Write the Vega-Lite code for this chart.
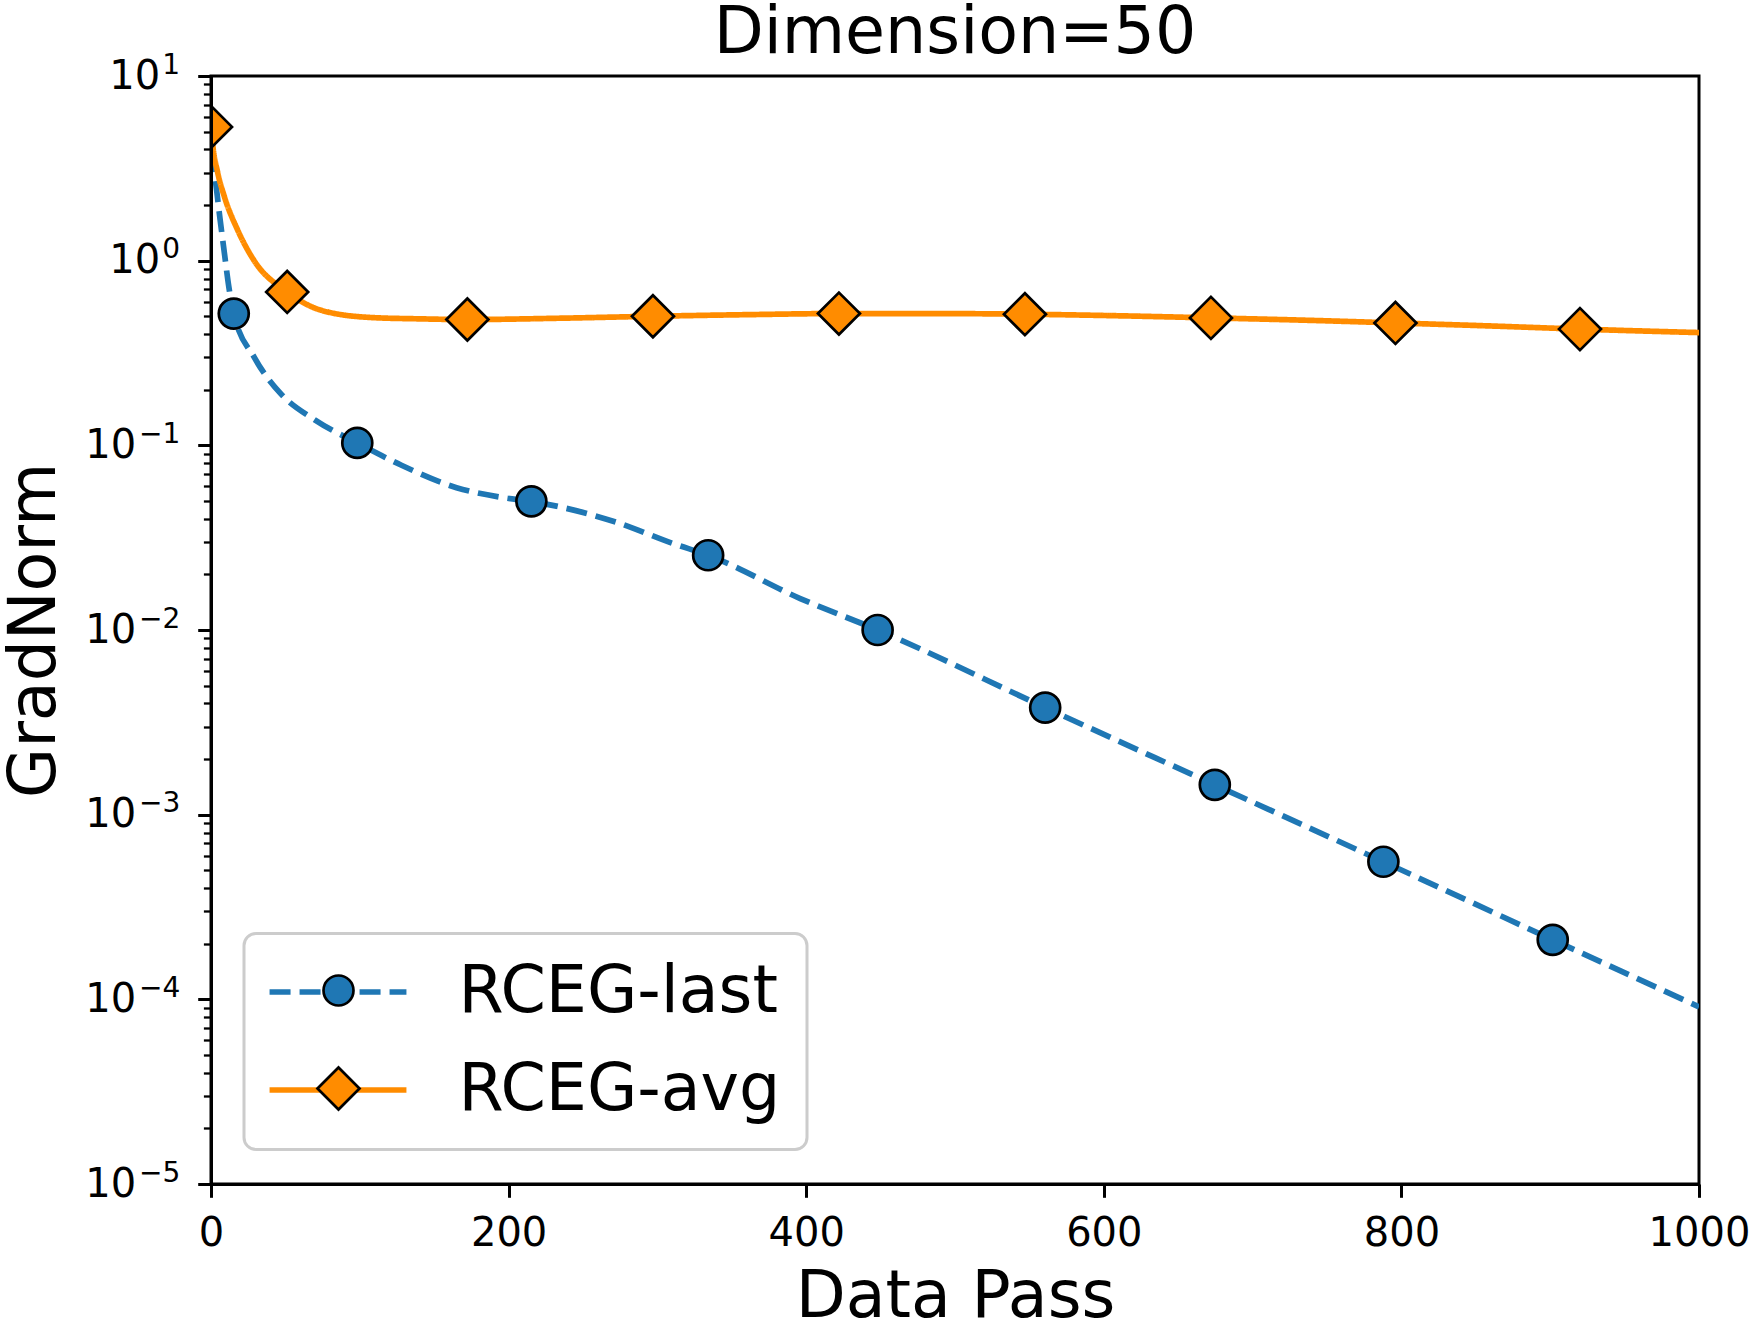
{
  "$schema": "https://vega.github.io/schema/vega-lite/v6.json",
  "autosize": {"type": "none"},
  "padding": {"left": 211, "top": 76, "right": 50, "bottom": 138},
  "width": 1488,
  "height": 1108,
  "background": "white",
  "title": {
    "text": "Dimension=50",
    "anchor": "middle",
    "frame": "group",
    "baseline": "top",
    "offset": -16,
    "fontSize": 65,
    "fontWeight": "normal",
    "font": "DejaVu Sans",
    "color": "black"
  },
  "data": {
    "values": [
      {"series": "RCEG-last", "pass": 0, "gradnorm": 3.9, "marker": false},
      {"series": "RCEG-last", "pass": 3, "gradnorm": 2.7, "marker": false},
      {"series": "RCEG-last", "pass": 6, "gradnorm": 1.7, "marker": false},
      {"series": "RCEG-last", "pass": 9, "gradnorm": 1.1, "marker": false},
      {"series": "RCEG-last", "pass": 12, "gradnorm": 0.72, "marker": false},
      {"series": "RCEG-last", "pass": 15.3, "gradnorm": 0.517, "marker": true},
      {"series": "RCEG-last", "pass": 29, "gradnorm": 0.30, "marker": false},
      {"series": "RCEG-last", "pass": 47, "gradnorm": 0.19, "marker": false},
      {"series": "RCEG-last", "pass": 70, "gradnorm": 0.137, "marker": false},
      {"series": "RCEG-last", "pass": 98.3, "gradnorm": 0.103, "marker": true},
      {"series": "RCEG-last", "pass": 128, "gradnorm": 0.078, "marker": false},
      {"series": "RCEG-last", "pass": 165, "gradnorm": 0.059, "marker": false},
      {"series": "RCEG-last", "pass": 197, "gradnorm": 0.052, "marker": false},
      {"series": "RCEG-last", "pass": 215.3, "gradnorm": 0.0497, "marker": true},
      {"series": "RCEG-last", "pass": 272, "gradnorm": 0.0384, "marker": false},
      {"series": "RCEG-last", "pass": 311, "gradnorm": 0.0293, "marker": false},
      {"series": "RCEG-last", "pass": 334.1, "gradnorm": 0.0254, "marker": true},
      {"series": "RCEG-last", "pass": 396, "gradnorm": 0.0148, "marker": false},
      {"series": "RCEG-last", "pass": 448, "gradnorm": 0.0100, "marker": true},
      {"series": "RCEG-last", "pass": 560.6, "gradnorm": 0.0038, "marker": true},
      {"series": "RCEG-last", "pass": 674.6, "gradnorm": 0.00145, "marker": true},
      {"series": "RCEG-last", "pass": 787.9, "gradnorm": 0.000556, "marker": true},
      {"series": "RCEG-last", "pass": 901.7, "gradnorm": 0.00021, "marker": true},
      {"series": "RCEG-last", "pass": 1000, "gradnorm": 0.000091, "marker": false},
      {"series": "RCEG-avg", "pass": 0, "gradnorm": 5.3, "marker": true},
      {"series": "RCEG-avg", "pass": 1.2, "gradnorm": 4.2, "marker": false},
      {"series": "RCEG-avg", "pass": 4.5, "gradnorm": 3.0, "marker": false},
      {"series": "RCEG-avg", "pass": 9, "gradnorm": 2.22, "marker": false},
      {"series": "RCEG-avg", "pass": 18, "gradnorm": 1.46, "marker": false},
      {"series": "RCEG-avg", "pass": 29, "gradnorm": 1.0, "marker": false},
      {"series": "RCEG-avg", "pass": 51.2, "gradnorm": 0.677, "marker": true},
      {"series": "RCEG-avg", "pass": 74, "gradnorm": 0.539, "marker": false},
      {"series": "RCEG-avg", "pass": 108, "gradnorm": 0.492, "marker": false},
      {"series": "RCEG-avg", "pass": 141, "gradnorm": 0.484, "marker": false},
      {"series": "RCEG-avg", "pass": 172.3, "gradnorm": 0.480, "marker": true},
      {"series": "RCEG-avg", "pass": 235, "gradnorm": 0.488, "marker": false},
      {"series": "RCEG-avg", "pass": 297, "gradnorm": 0.500, "marker": true},
      {"series": "RCEG-avg", "pass": 360, "gradnorm": 0.510, "marker": false},
      {"series": "RCEG-avg", "pass": 422, "gradnorm": 0.517, "marker": true},
      {"series": "RCEG-avg", "pass": 485, "gradnorm": 0.517, "marker": false},
      {"series": "RCEG-avg", "pass": 547, "gradnorm": 0.513, "marker": true},
      {"series": "RCEG-avg", "pass": 610, "gradnorm": 0.503, "marker": false},
      {"series": "RCEG-avg", "pass": 672, "gradnorm": 0.490, "marker": true},
      {"series": "RCEG-avg", "pass": 735, "gradnorm": 0.476, "marker": false},
      {"series": "RCEG-avg", "pass": 796, "gradnorm": 0.460, "marker": true},
      {"series": "RCEG-avg", "pass": 860, "gradnorm": 0.443, "marker": false},
      {"series": "RCEG-avg", "pass": 920, "gradnorm": 0.426, "marker": true},
      {"series": "RCEG-avg", "pass": 1000, "gradnorm": 0.408, "marker": false}
    ]
  },
  "encoding": {
    "x": {
      "field": "pass",
      "type": "quantitative",
      "scale": {"domain": [0, 1000], "nice": false, "zero": false},
      "axis": {
        "title": "Data Pass",
        "values": [0, 200, 400, 600, 800, 1000],
        "format": "d",
        "grid": false,
        "labelFlush": false,
        "labelOverlap": false,
        "labelFontSize": 40,
        "labelPadding": 16,
        "tickSize": 13.3,
        "tickWidth": 3,
        "titlePadding": 12,
        "zindex": 1
      }
    },
    "color": {
      "field": "series",
      "type": "nominal",
      "scale": {"domain": ["RCEG-last", "RCEG-avg"], "range": ["#1f77b4", "#ff8c00"]},
      "legend": {
        "title": null,
        "orient": "none",
        "legendX": 33,
        "legendY": 857.5,
        "symbolType": "M-2.32,0H2.32",
        "symbolSize": 3481,
        "symbolStrokeWidth": 5.7,
        "symbolStrokeColor": {"expr": "scale('color', datum.value)"},
        "symbolDash": {"expr": "scale('strokeDash', datum.value)"},
        "symbolFillColor": "transparent",
        "symbolOpacity": 1,
        "symbolOffset": 35.5,
        "labelOffset": 88,
        "labelFontSize": 65,
        "labelLimit": 1000,
        "rowPadding": 32,
        "padding": 26,
        "cornerRadius": 12,
        "fillColor": "rgba(255,255,255,0.8)",
        "strokeColor": "#cccccc"
      }
    }
  },
  "layer": [
    {
      "mark": {"type": "line", "interpolate": "monotone", "strokeWidth": 5.7, "strokeCap": "butt", "strokeJoin": "round", "clip": true},
      "encoding": {
        "y": {
          "field": "gradnorm",
          "type": "quantitative",
          "scale": {"type": "log", "domain": [0.00001, 10], "nice": false},
          "axis": {
            "orient": "left",
            "title": "GradNorm",
            "grid": false,
            "values": [
              0.00001, 0.00002, 0.00003, 0.00004, 0.00005, 0.00006, 0.00007, 0.00008, 0.00009,
              0.0001, 0.0002, 0.0003, 0.0004, 0.0005, 0.0006, 0.0007, 0.0008, 0.0009,
              0.001, 0.002, 0.003, 0.004, 0.005, 0.006, 0.007, 0.008, 0.009,
              0.01, 0.02, 0.03, 0.04, 0.05, 0.06, 0.07, 0.08, 0.09,
              0.1, 0.2, 0.3, 0.4, 0.5, 0.6, 0.7, 0.8, 0.9,
              1, 2, 3, 4, 5, 6, 7, 8, 9, 10
            ],
            "labelExpr": "abs(log(datum.value)/LN10 - round(log(datum.value)/LN10)) > 0.001 ? '' : '10'",
            "labelOverlap": false,
            "labelFontSize": 40,
            "labelPadding": {"condition": {"test": "datum.value < 0.5", "value": 62}, "value": 38},
            "tickSize": {"condition": {"test": "abs(log(datum.value)/LN10 - round(log(datum.value)/LN10)) < 0.001", "value": 13.3}, "value": 7.6},
            "tickWidth": {"condition": {"test": "abs(log(datum.value)/LN10 - round(log(datum.value)/LN10)) < 0.001", "value": 3}, "value": 2.3},
            "titlePadding": 16,
            "zindex": 1
          }
        },
        "strokeDash": {
          "field": "series",
          "type": "nominal",
          "scale": {"domain": ["RCEG-last", "RCEG-avg"], "range": [[21, 9], [1, 0]]},
          "legend": null
        }
      }
    },
    {
      "transform": [{"filter": "datum.marker"}],
      "mark": {"type": "point", "filled": true, "opacity": 1, "size": 1764, "stroke": "black", "strokeWidth": 2.7, "clip": true},
      "encoding": {
        "y": {
          "field": "gradnorm",
          "type": "quantitative",
          "scale": {"type": "log", "domain": [0.00001, 10], "nice": false},
          "axis": {
            "orient": "left",
            "title": null,
            "grid": false,
            "domain": false,
            "ticks": true,
            "tickOpacity": 0,
            "tickSize": 13.3,
            "values": [0.00001, 0.0001, 0.001, 0.01, 0.1, 1, 10],
            "labelExpr": "round(log(datum.value)/LN10) < 0 ? '−' + (-round(log(datum.value)/LN10)) : '' + round(log(datum.value)/LN10)",
            "labelOverlap": false,
            "labelFontSize": 28,
            "labelPadding": 18,
            "labelOffset": -11,
            "zindex": 1
          }
        },
        "shape": {
          "field": "series",
          "type": "nominal",
          "scale": {
            "domain": ["RCEG-last", "RCEG-avg"],
            "range": ["M0.714,0A0.714,0.714,0,1,1,-0.714,0A0.714,0.714,0,1,1,0.714,0Z", "M-1,0L0,-1L1,0L0,1Z"]
          },
          "legend": {
            "title": null,
            "orient": "bottom-left",
            "offset": 36.5,
            "symbolSize": 1764,
            "symbolFillColor": {"expr": "scale('color', datum.value)"},
            "symbolStrokeColor": "black",
            "symbolStrokeWidth": 2.7,
            "symbolOpacity": 1,
            "symbolOffset": 32,
            "labelOffset": 54,
            "labelFontSize": 65,
            "labelExpr": "''",
            "rowPadding": 32,
            "padding": 26,
            "strokeColor": "transparent",
            "fillColor": "transparent"
          }
        }
      }
    }
  ],
  "resolve": {"scale": {"y": "shared"}, "axis": {"y": "independent"}},
  "config": {
    "font": "DejaVu Sans",
    "view": {"stroke": "black", "strokeWidth": 3},
    "axis": {
      "domainColor": "black",
      "domainWidth": 3,
      "tickColor": "black",
      "labelColor": "black",
      "labelFont": "DejaVu Sans",
      "titleFont": "DejaVu Sans",
      "titleFontSize": 65,
      "titleFontWeight": "normal",
      "titleColor": "black"
    },
    "legend": {"labelFont": "DejaVu Sans", "labelColor": "black", "strokeWidth": 3}
  }
}
